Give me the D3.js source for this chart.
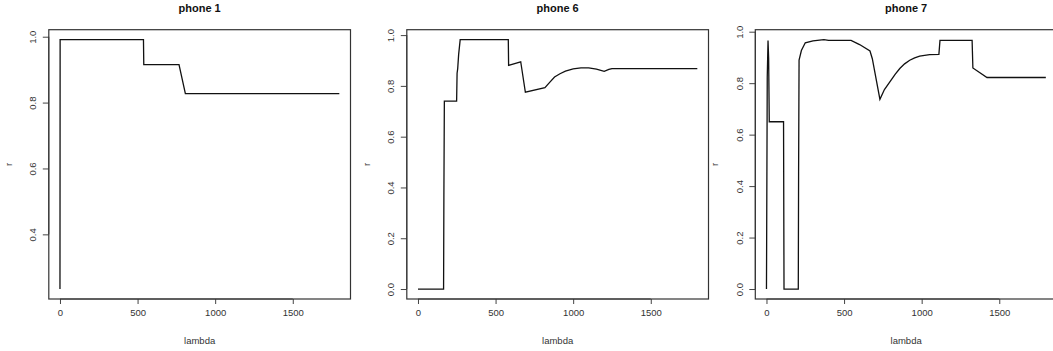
<!DOCTYPE html>
<html>
<head>
<meta charset="utf-8">
<script src="https://cdn.jsdelivr.net/npm/d3@7"></script>
<style>
  body { margin: 0; background: #fff; }
  svg { display: block; font-family: "Liberation Sans", Arial, sans-serif; }
</style>
</head>
<body>
<svg id="chart" width="1053" height="351"></svg>
<script>
// data
const titles = ['phone 1', 'phone 6', 'phone 7'];

const phone1Lambda = [0, 1, 538, 540, 767, 808, 1800];
const phone1R = [0.234, 0.991, 0.991, 0.915, 0.915, 0.827, 0.827];

const phone6Lambda = [0, 165, 167, 170, 249, 252, 256, 262, 272, 582, 584, 662, 692, 818, 850, 880, 915, 950, 1000, 1050, 1100, 1150, 1200, 1230, 1250, 1800];
const phone6R = [0, 0, 0.37, 0.74, 0.74, 0.85, 0.868, 0.923, 0.982, 0.982, 0.881, 0.895, 0.775, 0.793, 0.815, 0.835, 0.848, 0.858, 0.867, 0.871, 0.871, 0.866, 0.857, 0.865, 0.868, 0.868];

const phone7Lambda = [0, 5, 10, 14, 18, 110, 113, 205, 207, 210, 225, 250, 300, 370, 400, 545, 600, 667, 682, 731, 760, 795, 830, 859, 890, 923, 955, 987, 1051, 1111, 1118, 1325, 1330, 1421, 1800];
const phone7R = [0, 0.824, 0.966, 0.895, 0.65, 0.65, 0, 0, 0.456, 0.89, 0.927, 0.957, 0.964, 0.969, 0.966, 0.966, 0.95, 0.925, 0.895, 0.737, 0.775, 0.805, 0.835, 0.857, 0.875, 0.889, 0.898, 0.905, 0.911, 0.912, 0.966, 0.966, 0.859, 0.822, 0.822];

const xTicks = [0, 500, 1000, 1500];
const yTicks1 = [0.4, 0.6, 0.8, 1.0];
const yTicks = [0, 0.2, 0.4, 0.6, 0.8, 1.0];

const panels = [
    { title: titles[0], lambda: phone1Lambda, r: phone1R, yticks: yTicks1, left: 48.8, right: 350.5 },
    { title: titles[1], lambda: phone6Lambda, r: phone6R, yticks: yTicks, left: 406.8, right: 708.5 },
    { title: titles[2], lambda: phone7Lambda, r: phone7R, yticks: yTicks, left: 755.3, right: 1057 }
];

const plotTop = 29.7, plotBottom = 299;
const svg = d3.select('#chart');

// R style 4% range extension
function padded(ext) {
    const d = (ext[1] - ext[0]) * 0.04;
    return [ext[0] - d, ext[1] + d];
}

panels.forEach(p => {
    const pts = p.lambda.map((l, i) => ({ x: l, y: p.r[i] }));

    const xscale = d3.scaleLinear()
        .domain(padded([0, d3.max(p.lambda)]))
        .range([p.left, p.right]);
    const yscale = d3.scaleLinear()
        .domain(padded(d3.extent(p.r)))
        .range([plotBottom, plotTop]);

    const g = svg.append('g');

    // x axis
    const xaxis = d3.axisBottom(xscale)
        .tickValues(xTicks)
        .tickFormat(d3.format('d'))
        .tickSize(5)
        .tickSizeOuter(0)
        .tickPadding(5);
    const xg = g.append('g')
        .attr('transform', `translate(0, ${plotBottom})`)
        .call(xaxis);
    xg.select('.domain')
        .attr('d', `M${xscale(xTicks[0])},0H${xscale(xTicks[xTicks.length - 1])}`);

    // y axis
    const yaxis = d3.axisLeft(yscale)
        .tickValues(p.yticks)
        .tickFormat(d3.format('.1f'))
        .tickSize(6)
        .tickSizeOuter(0);
    const yg = g.append('g')
        .attr('transform', `translate(${p.left}, 0)`)
        .call(yaxis);
    yg.select('.domain')
        .attr('d', `M0,${yscale(p.yticks[0])}V${yscale(p.yticks[p.yticks.length - 1])}`);
    yg.selectAll('.tick text')
        .attr('x', null).attr('dy', null)
        .attr('text-anchor', 'middle')
        .attr('transform', 'translate(-12.8, 0) rotate(-90)');

    g.selectAll('.tick line, .domain').attr('stroke', '#444');
    g.selectAll('.tick text')
        .attr('fill', '#333')
        .style('font-size', '9.5px');
    xg.selectAll('.tick text').attr('dy', '0.71em');

    // box
    g.append('rect')
        .attr('x', p.left)
        .attr('y', plotTop)
        .attr('width', p.right - p.left)
        .attr('height', plotBottom - plotTop)
        .attr('fill', 'none')
        .attr('stroke', '#333')
        .attr('stroke-width', 1.2);

    // line
    const line = d3.line()
        .x(d => xscale(d.x))
        .y(d => yscale(d.y));
    g.append('path')
        .datum(pts)
        .attr('d', line)
        .attr('fill', 'none')
        .attr('stroke', '#111')
        .attr('stroke-width', 1.3);

    // title and labels
    g.append('text')
        .attr('x', (p.left + p.right) / 2)
        .attr('y', 12)
        .attr('text-anchor', 'middle')
        .style('font-size', '11px')
        .style('font-weight', 'bold')
        .attr('fill', '#111')
        .text(p.title);

    g.append('text')
        .attr('x', (p.left + p.right) / 2)
        .attr('y', 344)
        .attr('text-anchor', 'middle')
        .style('font-size', '9.5px')
        .attr('fill', '#333')
        .text('lambda');

    g.append('text')
        .attr('transform', `translate(${p.left - 37}, ${(plotTop + plotBottom) / 2}) rotate(-90)`)
        .attr('text-anchor', 'middle')
        .style('font-size', '9.5px')
        .attr('fill', '#333')
        .text('r');
});
</script>
</body>
</html>
